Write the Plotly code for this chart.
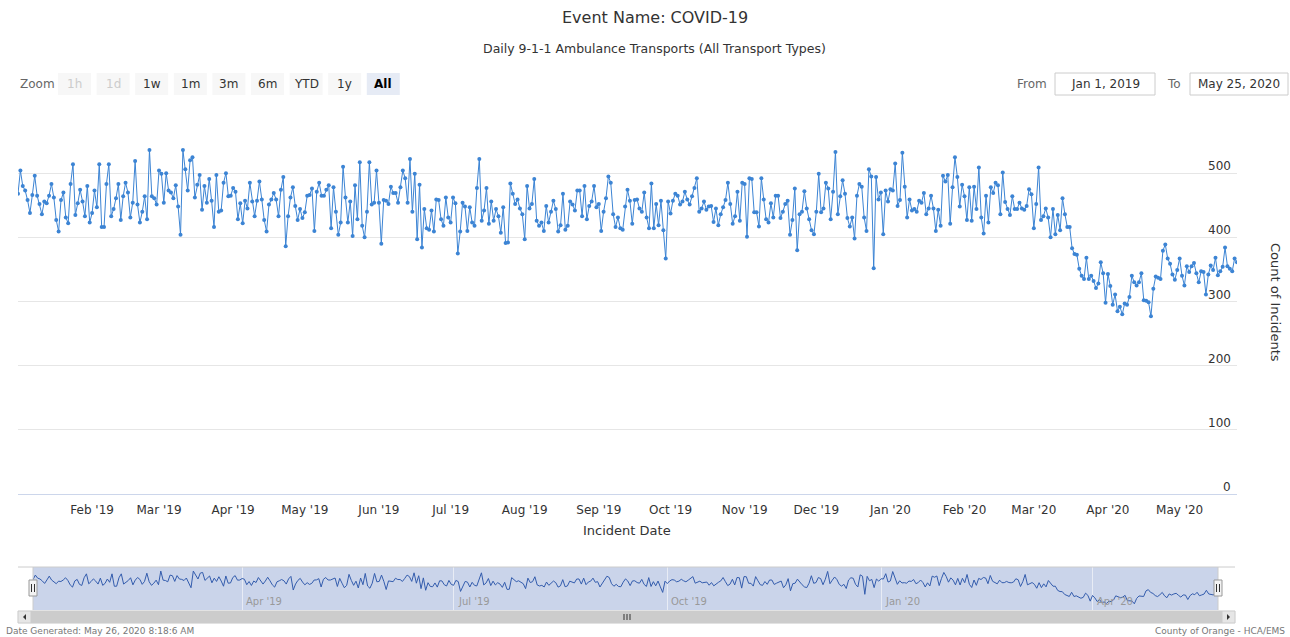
import pandas as pd
import plotly.graph_objects as go

# ---------------- data ----------------
start_date = "2019-01-01"
transports_jan_feb19 = [468,504,480,473,458,438,466,496,465,452,436,456,453,465,483,462,427,409,458,470,
                        431,422,483,514,435,453,474,456,433,480,423,438,473,447,514,416,416,483,514,433,
                        444,461,483,427,464,485,470,431,454,519,451]
transports_feb_apr19 = [423,440,464,428,536,464,461,451,504,499,454,500,473,470,461,481,448,404,536,506,
                        473,520,525,462,482,497,443,480,454,491,457,416,497,440,442,485,500,464,465,477,
                        471,428,453,422,457,445,485,456,433,457,487]
transports_apr_jun19 = [459,427,409,451,459,469,459,433,474,494,386,433,462,478,449,427,444,430,439,465,
                        466,476,410,471,485,465,465,474,481,414,478,440,404,423,510,462,423,456,402,481,
                        428,517,418,400,440,517,451,454,504,454,390,458]
transports_jun_jul19 = [457,452,479,469,469,454,478,504,492,454,522,440,499,397,482,384,444,414,412,442,
                        409,459,458,428,418,462,431,423,462,453,375,409,454,448,410,447,423,418,477,522,
                        426,442,477,421,456,426,444,433,407,447,391]
transports_aug_sep19 = [392,484,468,452,459,445,436,397,480,445,452,491,426,418,423,410,449,423,440,457,
                        444,409,419,468,412,418,456,451,442,473,473,433,480,428,449,456,480,447,452,410,
                        440,461,495,485,436,416,431,414,412,448,474]
transports_sep_nov19 = [457,421,458,459,445,440,470,431,414,484,414,452,419,457,411,367,456,437,457,468,
                        465,451,456,471,459,451,464,477,492,440,445,456,443,448,449,424,445,419,436,447,
                        458,485,452,421,433,471,426,485,483,401,492]
transports_nov_dec19 = [491,439,439,417,492,459,428,423,453,431,465,465,430,440,452,457,404,427,476,380,
                        436,440,472,445,428,411,405,440,499,439,445,485,476,428,471,533,436,464,489,468,
                        430,417,431,398,465,483,479,431,410,506,495]
transports_dec19_feb20 = [352,494,459,470,405,473,456,475,473,515,449,458,532,479,431,459,442,444,440,457,
                          454,469,436,445,465,445,410,443,418,496,487,497,421,478,525,494,448,482,464,427,
                          478,426,479,444,509,431,406,465,423,478,469]
transports_feb_apr20 = [485,481,436,501,455,444,435,464,444,444,454,445,443,449,475,467,414,452,509,427,
                        433,445,431,400,444,405,435,411,461,436,416,416,383,374,373,351,340,335,368,335,
                        340,332,321,328,361,344,298,343,324,295,311,285]
transports_apr_may20 = [292,280,297,295,307,340,330,325,330,344,302,301,299,277,320,339,337,335,379,389,
                        367,359,342,334,349,367,340,325,355,346,355,360,344,330,347,346,311,342,356,349,
                        368,341,347,354,384,355,351,347,367,361]

month_ticks = ["2019-02-01","2019-03-01","2019-04-01","2019-05-01","2019-06-01","2019-07-01",
               "2019-08-01","2019-09-01","2019-10-01","2019-11-01","2019-12-01","2020-01-01",
               "2020-02-01","2020-03-01","2020-04-01","2020-05-01"]
month_labels = ["Feb '19","Mar '19","Apr '19","May '19","Jun '19","Jul '19","Aug '19","Sep '19",
                "Oct '19","Nov '19","Dec '19","Jan '20","Feb '20","Mar '20","Apr '20","May '20"]
nav_ticks = ["2019-04-01","2019-07-01","2019-10-01","2020-01-01","2020-04-01"]
nav_labels = ["Apr '19","Jul '19","Oct '19","Jan '20","Apr '20"]
y_ticks = [0,100,200,300,400,500]
zoom_buttons = ["1h","1d","1w","1m","3m","6m","YTD","1y","All"]

values = (transports_jan_feb19 + transports_feb_apr19 + transports_apr_jun19 + transports_jun_jul19 +
          transports_aug_sep19 + transports_sep_nov19 + transports_nov_dec19 + transports_dec19_feb20 +
          transports_feb_apr20 + transports_apr_may20)
dates = pd.date_range(start_date, periods=len(values), freq="D")
end_date = dates[-1]

# ---------------- helpers ----------------
W, H = 1290, 637
def px(x): return x / W
def py(y): return 1 - y / H

FONT = "DejaVu Sans, Lucida Grande, sans-serif"
LINE = "#3c84d4"

fig = go.Figure()
fig.add_trace(go.Scatter(x=dates, y=values, mode="lines+markers",
                         line=dict(color=LINE, width=1), marker=dict(size=4, color=LINE),
                         xaxis="x", yaxis="y", hoverinfo="x+y", showlegend=False))
fig.add_trace(go.Scatter(x=dates, y=values, mode="lines",
                         line=dict(color="#335cad", width=1),
                         xaxis="x2", yaxis="y2", hoverinfo="skip", showlegend=False))

shapes = []
ann = []

# navigator mask & outline
shapes.append(dict(type="rect", xref="paper", yref="paper", x0=px(33), x1=px(1218), y0=py(610), y1=py(567),
                   fillcolor="rgba(102,133,194,0.35)", line=dict(width=0), layer="below"))
shapes.append(dict(type="line", xref="paper", yref="paper", x0=px(18), x1=px(1235), y0=py(567), y1=py(567),
                   line=dict(color="#cccccc", width=1)))
shapes.append(dict(type="line", xref="paper", yref="paper", x0=px(33), x1=px(33), y0=py(567), y1=py(610),
                   line=dict(color="#cccccc", width=1)))
shapes.append(dict(type="line", xref="paper", yref="paper", x0=px(1218), x1=px(1218), y0=py(567), y1=py(610),
                   line=dict(color="#cccccc", width=1)))
# handles
for hx in (33, 1218):
    shapes.append(dict(type="rect", xref="paper", yref="paper", x0=px(hx-4), x1=px(hx+4), y0=py(596), y1=py(580),
                       fillcolor="#f2f2f2", line=dict(color="#999999", width=1)))
    for gx in (hx-1.5, hx+1.5):
        shapes.append(dict(type="line", xref="paper", yref="paper", x0=px(gx), x1=px(gx), y0=py(592), y1=py(584),
                           line=dict(color="#333333", width=1)))
# scrollbar
shapes.append(dict(type="rect", xref="paper", yref="paper", x0=px(18), x1=px(1235), y0=py(623), y1=py(611),
                   fillcolor="#f2f2f2", line=dict(color="#f2f2f2", width=1)))
shapes.append(dict(type="rect", xref="paper", yref="paper", x0=px(31), x1=px(1222), y0=py(623), y1=py(611),
                   fillcolor="#cccccc", line=dict(color="#cccccc", width=1)))
for bx in (18, 1222):
    shapes.append(dict(type="rect", xref="paper", yref="paper", x0=px(bx), x1=px(bx+13), y0=py(623), y1=py(611),
                       fillcolor="#e6e6e6", line=dict(color="#cccccc", width=1)))
shapes.append(dict(type="path", xref="paper", yref="paper",
                   path=f"M {px(26)} {py(614)} L {px(26)} {py(620)} L {px(23)} {py(617)} Z",
                   fillcolor="#333333", line=dict(width=0)))
shapes.append(dict(type="path", xref="paper", yref="paper",
                   path=f"M {px(1227)} {py(614)} L {px(1227)} {py(620)} L {px(1230)} {py(617)} Z",
                   fillcolor="#333333", line=dict(width=0)))
for gx in (624, 627, 630):
    shapes.append(dict(type="line", xref="paper", yref="paper", x0=px(gx), x1=px(gx), y0=py(614), y1=py(620),
                       line=dict(color="#333333", width=1)))

# navigator labels
for d, t in zip(nav_ticks, nav_labels):
    ann.append(dict(xref="x2", yref="paper", x=d, y=py(601), text=t, showarrow=False, xanchor="left",
                    xshift=2, yanchor="middle", font=dict(family=FONT, size=10, color="#999999")))

# range selector
ann.append(dict(xref="paper", yref="paper", x=px(18), y=py(84), text="Zoom", showarrow=False,
                xanchor="left", yanchor="middle", font=dict(family=FONT, size=12, color="#666666")))
for i, b in enumerate(zoom_buttons):
    x0 = 58 + i * 38.6
    sel = (b == "All")
    shapes.append(dict(type="rect", xref="paper", yref="paper", x0=px(x0), x1=px(x0+33), y0=py(95), y1=py(73),
                       fillcolor="#e6ebf5" if sel else "#f7f7f7", line=dict(width=0)))
    col = "#cccccc" if b in ("1h", "1d") else ("#000000" if sel else "#333333")
    ann.append(dict(xref="paper", yref="paper", x=px(x0+16.5), y=py(84), text=f"<b>{b}</b>" if sel else b,
                    showarrow=False, xanchor="center", yanchor="middle",
                    font=dict(family=FONT, size=12, color=col)))

# from / to inputs
ann.append(dict(xref="paper", yref="paper", x=px(1049), y=py(84), text="From", showarrow=False,
                xanchor="right", yanchor="middle", font=dict(family=FONT, size=12, color="#666666")))
shapes.append(dict(type="rect", xref="paper", yref="paper", x0=px(1055), x1=px(1155), y0=py(95), y1=py(73),
                   fillcolor="white", line=dict(color="#cccccc", width=1)))
ann.append(dict(xref="paper", yref="paper", x=px(1105), y=py(84), text=dates[0].strftime("%b %-d, %Y"),
                showarrow=False, xanchor="center", yanchor="middle", font=dict(family=FONT, size=12, color="#333333")))
ann.append(dict(xref="paper", yref="paper", x=px(1183), y=py(84), text="To", showarrow=False,
                xanchor="right", yanchor="middle", font=dict(family=FONT, size=12, color="#666666")))
shapes.append(dict(type="rect", xref="paper", yref="paper", x0=px(1190), x1=px(1288), y0=py(95), y1=py(73),
                   fillcolor="white", line=dict(color="#cccccc", width=1)))
ann.append(dict(xref="paper", yref="paper", x=px(1239), y=py(84), text=end_date.strftime("%b %-d, %Y"),
                showarrow=False, xanchor="center", yanchor="middle", font=dict(family=FONT, size=12, color="#333333")))

# titles
ann.append(dict(xref="paper", yref="paper", x=px(655), y=py(18), text="Event Name: COVID-19", showarrow=False,
                xanchor="center", yanchor="middle", font=dict(family=FONT, size=16, color="#333333")))
ann.append(dict(xref="paper", yref="paper", x=px(654), y=py(48),
                text="Daily 9-1-1 Ambulance Transports (All Transport Types)", showarrow=False,
                xanchor="center", yanchor="middle", font=dict(family=FONT, size=12.5, color="#333333")))

# y labels (inside, right, above gridline)
for v in y_ticks:
    ann.append(dict(xref="paper", yref="y", x=px(1233), y=v, text=str(v), showarrow=False, xanchor="right",
                    yanchor="middle", yshift=7, font=dict(family=FONT, size=12, color="#333333")))
ann.append(dict(xref="paper", yref="paper", x=px(1276), y=py(302), text="Count of Incidents", showarrow=False,
                textangle=90, xanchor="center", yanchor="middle", font=dict(family=FONT, size=13, color="#333333")))
ann.append(dict(xref="paper", yref="paper", x=px(627), y=py(530), text="Incident Date", showarrow=False,
                xanchor="center", yanchor="middle", font=dict(family=FONT, size=13, color="#333333")))

# footer
ann.append(dict(xref="paper", yref="paper", x=px(4), y=py(631), text="Date Generated: May 26, 2020 8:18:6 AM",
                showarrow=False, xanchor="left", yanchor="middle", font=dict(family=FONT, size=9, color="#777777")))
ann.append(dict(xref="paper", yref="paper", x=px(1287), y=py(631), text="County of Orange - HCA/EMS",
                showarrow=False, xanchor="right", yanchor="middle", font=dict(family=FONT, size=9, color="#777777")))

fig.update_layout(
    width=W, height=H, margin=dict(l=0, r=0, t=0, b=0),
    paper_bgcolor="white", plot_bgcolor="rgba(0,0,0,0)",
    font=dict(family=FONT, size=11, color="#333333"),
    showlegend=False,
    xaxis=dict(domain=[px(18), px(1237)], range=[dates[0], end_date], type="date",
               tickvals=month_ticks, ticktext=month_labels, showgrid=False,
               showline=True, linecolor="#ccd6eb", ticks="outside", ticklen=5, tickcolor="rgba(0,0,0,0)",
               tickfont=dict(family=FONT, size=12, color="#333333"), anchor="y", zeroline=False, fixedrange=True),
    yaxis=dict(domain=[py(494), py(109)], range=[0, 600], dtick=100, showgrid=True, gridcolor="#e6e6e6",
               showticklabels=False, zeroline=False, anchor="x", fixedrange=True),
    xaxis2=dict(domain=[px(33), px(1218)], range=[dates[0], end_date], type="date", anchor="y2",
                tickvals=nav_ticks, showticklabels=False, showgrid=True, gridcolor="#e8ecf5",
                zeroline=False, fixedrange=True),
    yaxis2=dict(domain=[py(610), py(567)], range=[228, 568], anchor="x2", visible=False, fixedrange=True),
    shapes=shapes, annotations=ann,
)

fig.write_html("out.html", config={"displayModeBar": False},
               post_script="document.body.style.margin='0';document.body.style.overflow='hidden';")
